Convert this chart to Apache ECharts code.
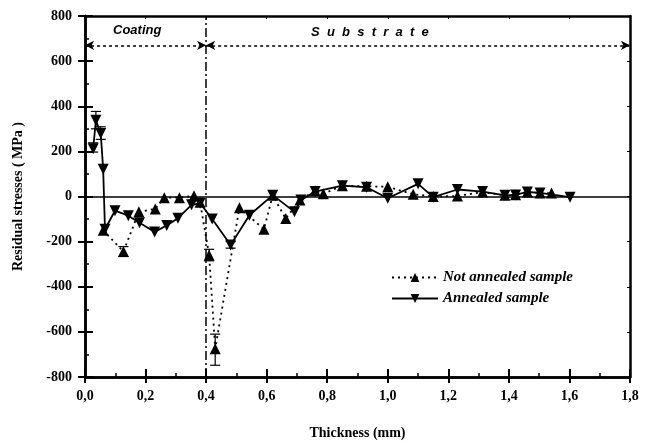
<!DOCTYPE html>
<html><head><meta charset="utf-8">
<script src="https://cdn.jsdelivr.net/npm/echarts@6/dist/echarts.min.js"></script>
<style>html,body{margin:0;padding:0;background:#fff}#c{width:651px;height:445px}</style>
</head><body><div id="c"></div>
<script>
// Not annealed sample (up triangles, dotted)
const thickNA = [0.060, 0.127, 0.178, 0.232, 0.262, 0.312, 0.360, 0.380, 0.410, 0.430, 0.510, 0.591, 0.620, 0.663, 0.710, 0.760, 0.787, 0.850, 0.930, 1.000, 1.084, 1.150, 1.230, 1.313, 1.387, 1.422, 1.461, 1.503, 1.541];
const stressNA = [-150, -244, -68, -55, -5, -5, 3, -25, -260, -675, -50, -145, 5, -98, -15, 25, 12, 48, 45, 43, 10, 0, 2, 20, 5, 8, 20, 15, 15];
// Annealed sample (down triangles, solid)
const thickA = [0.027, 0.036, 0.052, 0.060, 0.066, 0.099, 0.143, 0.180, 0.230, 0.270, 0.307, 0.352, 0.380, 0.420, 0.481, 0.543, 0.620, 0.692, 0.713, 0.760, 0.850, 0.930, 1.000, 1.100, 1.150, 1.230, 1.313, 1.387, 1.422, 1.461, 1.503, 1.602];
const stressA = [212, 338, 279, 121, -145, -63, -85, -116, -157, -128, -96, -37, -30, -100, -215, -83, 6, -68, -16, 22, 48, 41, -8, 56, -3, 31, 22, 5, 7, 20, 16, -3];
// Error bars: thickness, low, high
const errThick = [0.027, 0.036, 0.052, 0.127, 0.410, 0.430, 0.481];
const errLow = [197, 300, 253, -266, -285, -748, -229];
const errHigh = [238, 377, 309, -222, -234, -610, -200];
// Axis ticks
const xTicks = [0, 0.2, 0.4, 0.6, 0.8, 1.0, 1.2, 1.4, 1.6, 1.8];
const yTicks = [-800, -600, -400, -200, 0, 200, 400, 600, 800];
const boundary = 0.4;
const arrowY = 670;

const zip = (a, b) => a.map((v, i) => [v, b[i]]);
const errData = errThick.map((t, i) => [t, errLow[i], errHigh[i]]);

const serif = 'Liberation Serif, Times New Roman, serif';
const sans = 'Liberation Sans, Arial, sans-serif';
const chart = echarts.init(document.getElementById('c'));
const axisBase = {
  type: 'value',
  axisLine: { show: true, onZero: false, lineStyle: { color: '#000', width: 2.5 } },
  splitLine: { show: false },
};
chart.setOption({
  animation: false,
  backgroundColor: '#fff',
  grid: { left: 85, right: 21, top: 16, bottom: 65 },
  legend: {
    orient: 'vertical', left: 386, top: 265, itemWidth: 46, itemHeight: 11, itemGap: 6,
    data: ['Not annealed sample', 'Annealed sample'],
    textStyle: { fontFamily: serif, fontWeight: 'bold', fontStyle: 'italic', fontSize: 15, color: '#000' }
  },
  xAxis: [
    Object.assign({}, axisBase, {
      min: xTicks[0], max: xTicks[xTicks.length - 1], interval: 0.2, position: 'bottom',
      name: 'Thickness (mm)', nameLocation: 'middle', nameGap: 49,
      nameTextStyle: { fontFamily: serif, fontWeight: 'bold', fontSize: 14, color: '#000' },
      axisTick: { show: true, inside: true, length: 8, lineStyle: { color: '#000', width: 2 } },
      minorTick: { show: true, splitNumber: 2, length: 4, lineStyle: { color: '#000', width: 1.5 } },
      axisLabel: { margin: 12, fontFamily: serif, fontWeight: 'bold', fontSize: 14, color: '#000',
        formatter: v => v.toFixed(1).replace('.', ',') }
    }),
    Object.assign({}, axisBase, {
      min: xTicks[0], max: xTicks[xTicks.length - 1], interval: 0.2, position: 'bottom',
      axisTick: { show: true, inside: false, length: 6, lineStyle: { color: '#000', width: 2 } },
      axisLabel: { show: false }
    }),
    Object.assign({}, axisBase, {
      min: xTicks[0], max: xTicks[xTicks.length - 1], interval: 0.2, position: 'top',
      axisTick: { show: true, inside: true, length: 3, lineStyle: { color: '#000', width: 1 } },
      axisLabel: { show: false }
    })
  ],
  yAxis: [
    Object.assign({}, axisBase, {
      min: yTicks[0], max: yTicks[yTicks.length - 1], interval: 200, position: 'left',
      name: 'Residual stresses ( MPa )', nameLocation: 'middle', nameGap: 60,
      nameTextStyle: { fontFamily: serif, fontWeight: 'bold', fontSize: 14, color: '#000' },
      axisTick: { show: true, inside: true, length: 8, lineStyle: { color: '#000', width: 2 } },
      minorTick: { show: true, splitNumber: 2, length: 4, lineStyle: { color: '#000', width: 1.5 } },
      axisLabel: { margin: 13, fontFamily: serif, fontWeight: 'bold', fontSize: 14, color: '#000' }
    }),
    Object.assign({}, axisBase, {
      min: yTicks[0], max: yTicks[yTicks.length - 1], interval: 200, position: 'left',
      axisTick: { show: true, inside: false, length: 7, lineStyle: { color: '#000', width: 2 } },
      axisLabel: { show: false }
    }),
    Object.assign({}, axisBase, {
      min: yTicks[0], max: yTicks[yTicks.length - 1], interval: 200, position: 'right',
      axisTick: { show: true, inside: true, length: 3, lineStyle: { color: '#000', width: 1 } },
      axisLabel: { show: false }
    })
  ],
  graphic: [
    { type: 'text', left: 113, top: 24, style: { text: 'Coating', fontFamily: sans, fontWeight: 'bold', fontStyle: 'italic', fontSize: 13, fill: '#000' } },
    { type: 'text', left: 311, top: 26, style: { text: 'S  u  b  s  t  r  a  t  e', fontFamily: sans, fontWeight: 'bold', fontStyle: 'italic', fontSize: 13, fill: '#000' } }
  ],
  series: [
    {
      name: 'Not annealed sample', type: 'line', data: zip(thickNA, stressNA),
      symbol: 'triangle', symbolSize: 11, z: 3,
      lineStyle: { color: '#000', width: 1.8, type: [2, 4] },
      itemStyle: { color: '#000' },
      markLine: {
        silent: true, symbol: 'none', animation: false,
        label: { show: false },
        data: [
          [{ coord: [xTicks[0], 0] }, { coord: [xTicks[xTicks.length - 1], 0] }]
        ],
        lineStyle: { color: '#000', width: 1.5, type: 'solid' }
      }
    },
    {
      name: 'Annealed sample', type: 'line', data: zip(thickA, stressA),
      symbol: 'triangle', symbolRotate: 180, symbolSize: 11, z: 4,
      lineStyle: { color: '#000', width: 1.8, type: 'solid' },
      itemStyle: { color: '#000' },
      markLine: {
        silent: true, symbol: 'none', animation: false,
        label: { show: false },
        data: [
          [{ coord: [boundary, yTicks[0]] }, { coord: [boundary, yTicks[yTicks.length - 1]] }]
        ],
        lineStyle: { color: '#000', width: 1.5, type: [9, 3, 2, 3] }
      }
    },
    {
      name: 'arrows', type: 'line', data: [], silent: true,
      markLine: {
        silent: true, symbol: ['arrow', 'arrow'], symbolSize: [7, 9], animation: false,
        label: { show: false },
        data: [
          [{ coord: [xTicks[0], arrowY] }, { coord: [boundary, arrowY] }],
          [{ coord: [boundary, arrowY] }, { coord: [xTicks[xTicks.length - 1], arrowY] }]
        ],
        lineStyle: { color: '#000', width: 1.5, type: [3, 3] },
        itemStyle: { color: '#000' }
      }
    },
    {
      name: 'errors', type: 'custom', data: errData, z: 2, silent: true,
      renderItem: (params, api) => {
        const lo = api.coord([api.value(0), api.value(1)]);
        const hi = api.coord([api.value(0), api.value(2)]);
        const w = 5;
        const st = { stroke: '#000', lineWidth: 1.2 };
        return { type: 'group', children: [
          { type: 'line', shape: { x1: lo[0], y1: lo[1], x2: hi[0], y2: hi[1] }, style: st },
          { type: 'line', shape: { x1: lo[0] - w, y1: lo[1], x2: lo[0] + w, y2: lo[1] }, style: st },
          { type: 'line', shape: { x1: hi[0] - w, y1: hi[1], x2: hi[0] + w, y2: hi[1] }, style: st }
        ] };
      }
    }
  ]
});
</script></body></html>
